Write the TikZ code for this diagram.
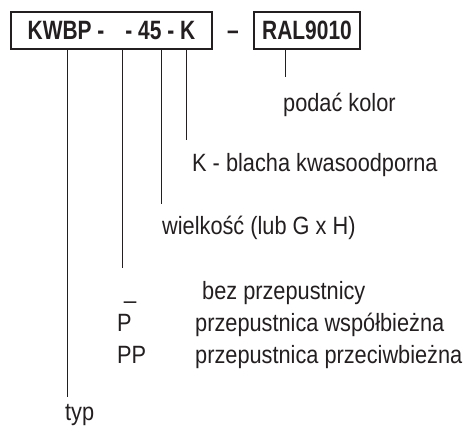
\documentclass[tikz,border=0pt]{standalone}
\usepackage{fontspec}
\setmainfont[FakeStretch=0.87]{Liberation Sans}
\newfontface\boxfont[FakeStretch=0.79]{Liberation Sans Bold}
\definecolor{ink}{HTML}{231F20}
\begin{document}
\begin{tikzpicture}[x=1pt,y=-1pt,
  codebox/.style={draw=ink,line width=2pt,inner sep=0pt,text=ink,
    font=\boxfont\fontsize{26.5}{28}\selectfont},
  lbl/.style={anchor=base west,inner sep=0pt,text=ink,
    font=\fontsize{25}{28}\selectfont},
  lead/.style={draw=ink,line width=0.8pt}]
\useasboundingbox (0,0) rectangle (467,433);
\node[codebox,minimum width=201pt,minimum height=37pt] (code) at (111.5,30.5)
  {KWBP -\hspace{21pt}- 45 - K};
\node[codebox,minimum width=106pt,minimum height=37pt] (ral) at (307,30.5) {RAL9010};
\node[anchor=base,inner sep=0pt,text=ink,font=\boxfont\fontsize{26.5}{28}\selectfont] (sep) at (233,40) {–};
% labels
\node[lbl] (kolor) at (283,112) {podać kolor};
\node[lbl] (blacha) at (192,172) {K - blacha kwasoodporna};
\node[lbl] (wiel) at (162,235) {wielkość (lub G x H)};
\node[lbl] (us) at (124,299) {\_};
\node[lbl] (bez) at (202,300) {bez przepustnicy};
\node[lbl] (p) at (117,332) {P};
\node[lbl] (pw) at (195,332) {przepustnica współbieżna};
\node[lbl] (pp) at (117,364) {PP};
\node[lbl] (ppw) at (195,364) {przepustnica przeciwbieżna};
\node[lbl] (typ) at (65,421) {typ};
% leader ends
\coordinate (e1) at (67,397);
\coordinate (e2) at (122,268);
\coordinate (e3) at (161,204);
\coordinate (e4) at (186,140);
\coordinate (e5) at (285,77);
\draw[lead] (code.south -| e1) -- (e1);
\draw[lead] (code.south -| e2) -- (e2);
\draw[lead] (code.south -| e3) -- (e3);
\draw[lead] (code.south -| e4) -- (e4);
\draw[lead] (ral.south -| e5) -- (e5);
\end{tikzpicture}
\end{document}
